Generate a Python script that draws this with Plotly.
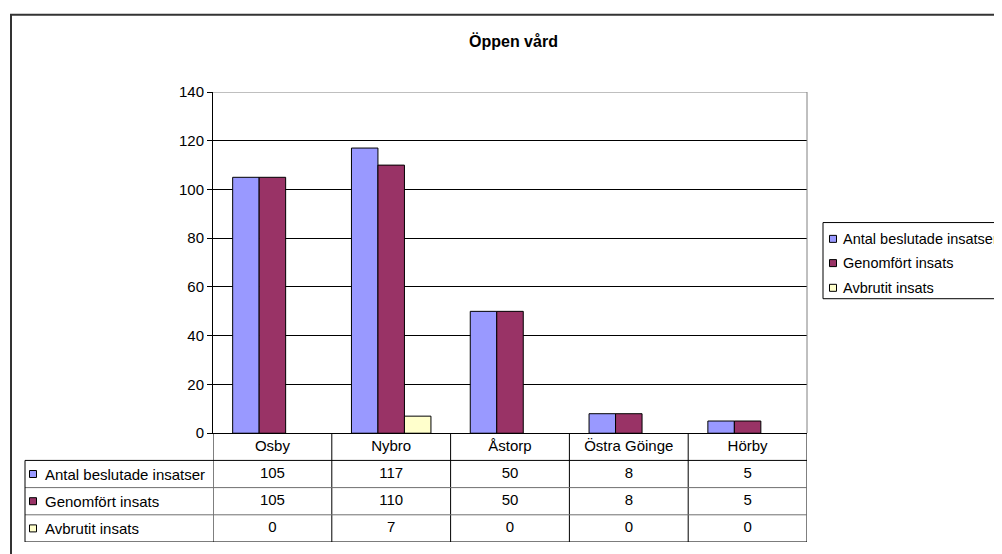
import plotly.graph_objects as go

# ---- data ----
categories = ["Osby", "Nybro", "Åstorp", "Östra Göinge", "Hörby"]
series_names = ["Antal beslutade insatser", "Genomfört insats", "Avbrutit insats"]
antal_beslutade = [105, 117, 50, 8, 5]
genomfort = [105, 110, 50, 8, 5]
avbrutit = [0, 7, 0, 0, 0]
y_ticks = [0, 20, 40, 60, 80, 100, 120, 140]
title_text = "Öppen vård"

series_values = [antal_beslutade, genomfort, avbrutit]
colors = ["#9999FF", "#993366", "#FFFFCC"]

FONT = "Liberation Sans, Arial, sans-serif"
FS = 15

OFF = 8                 # page body margin: figure starts at (8, 8) in the window
W, H = 1002, 554

# target positions in window pixels (converted to figure pixels)
L, R, T, B = 213 - OFF, 807 - OFF, 92 - OFF, 547 - OFF
AXIS_Y = 437 - OFF


def px_x(p):
    """window px -> paper x"""
    return (p - OFF - L) / (R - L)


def px_y(p):
    """window px -> paper y"""
    return (B - (p - OFF)) / (B - T)


split = (B - AXIS_Y) / (B - T)

fig = go.Figure()

for name, vals, col in zip(series_names, series_values, colors):
    fig.add_trace(go.Bar(
        x=categories, y=vals, name=name,
        marker=dict(color=col,
                    line=dict(color="black", width=[1 if v > 0 else 0 for v in vals])),
        xaxis="x", yaxis="y", showlegend=False,
    ))

# data table: header row + value rows
fig.add_trace(go.Scatter(
    x=categories, y=[0.5] * len(categories), text=categories, mode="text",
    textfont=dict(family=FONT, size=FS, color="black"),
    xaxis="x2", yaxis="y2", showlegend=False, hoverinfo="skip",
))
for i, vals in enumerate(series_values):
    fig.add_trace(go.Scatter(
        x=categories, y=[i + 1.5] * len(categories), text=[str(v) for v in vals],
        mode="text", textfont=dict(family=FONT, size=FS, color="black"),
        xaxis="x2", yaxis="y2", showlegend=False, hoverinfo="skip",
    ))

shapes = []
annotations = []

# table grid
n = len(categories)
for k in range(n + 1):
    shapes.append(dict(type="line", xref="x2", yref="y2", x0=k - 0.5, x1=k - 0.5,
                       y0=0, y1=4, line=dict(color="black", width=1)))
for r in range(1, 5):
    col = "black" if r in (1, 4) else "#707070"
    shapes.append(dict(type="line", xref="paper", yref="y2", x0=px_x(25), x1=1,
                       y0=r, y1=r, line=dict(color=col, width=1)))
shapes.append(dict(type="line", xref="paper", yref="y2", x0=px_x(25), x1=px_x(25),
                   y0=1, y1=4, line=dict(color="black", width=1)))

# row labels with keys
for i, (name, col) in enumerate(zip(series_names, colors)):
    shapes.append(dict(type="rect", xref="paper", yref="y2",
                       xsizemode="pixel", ysizemode="pixel",
                       xanchor=px_x(33), yanchor=i + 1.5,
                       x0=-3.5, x1=3.5, y0=-3.5, y1=3.5,
                       fillcolor=col, line=dict(color="black", width=1)))
    annotations.append(dict(xref="paper", yref="y2", x=px_x(43), y=i + 1.5,
                            text=name, showarrow=False, xanchor="left", yanchor="middle",
                            font=dict(family=FONT, size=FS, color="black")))

# plot-area gray border (top and right)
shapes.append(dict(type="line", xref="paper", yref="y", x0=0, x1=1, y0=140, y1=140,
                   line=dict(color="#808080", width=1), layer="above"))
shapes.append(dict(type="line", xref="paper", yref="y", x0=1, x1=1, y0=0, y1=140,
                   line=dict(color="#808080", width=1), layer="above"))

# legend (manual, Excel style)
shapes.append(dict(type="rect", xref="paper", yref="paper",
                   x0=px_x(823), x1=px_x(1030), y0=px_y(301), y1=px_y(224),
                   line=dict(color="black", width=1), fillcolor="white"))
for name, col, cy in zip(series_names, colors, [240.5, 265, 290]):
    shapes.append(dict(type="rect", xref="paper", yref="paper",
                       xsizemode="pixel", ysizemode="pixel",
                       xanchor=px_x(833), yanchor=px_y(cy),
                       x0=-3.5, x1=3.5, y0=-3.5, y1=3.5,
                       fillcolor=col, line=dict(color="black", width=1)))
    annotations.append(dict(xref="paper", yref="paper", x=px_x(841), y=px_y(cy),
                            text=name, showarrow=False, xanchor="left", yanchor="middle",
                            font=dict(family=FONT, size=14.5, color="black")))

# outer chart border
shapes.append(dict(type="rect", xref="paper", yref="paper",
                   x0=px_x(11), x1=px_x(1030), y0=px_y(580), y1=px_y(14),
                   line=dict(color="#333333", width=2), fillcolor="rgba(0,0,0,0)"))

# title
annotations.append(dict(xref="paper", yref="paper", x=px_x(513.5), y=px_y(40.5),
                        text="<b>" + title_text + "</b>", showarrow=False,
                        xanchor="center", yanchor="middle",
                        font=dict(family=FONT, size=16, color="black")))

fig.update_layout(
    width=W, height=H,
    margin=dict(l=L, r=W - R, t=T, b=H - B, pad=0),
    paper_bgcolor="white", plot_bgcolor="white",
    font=dict(family=FONT, size=FS, color="black"),
    barmode="group", bargap=0.331, bargroupgap=0,
    showlegend=False,
    xaxis=dict(domain=[0, 1], anchor="y", type="category", categoryarray=categories,
               range=[-0.5, n - 0.5], showticklabels=False, ticks="",
               showline=True, linecolor="black", linewidth=1, showgrid=False,
               zeroline=False, fixedrange=True),
    yaxis=dict(domain=[split, 1], anchor="x", range=[0, 140], tickvals=y_ticks,
               ticks="outside", ticklen=5, tickcolor="black", tickwidth=1,
               showline=True, linecolor="black", linewidth=1,
               showgrid=True, gridcolor="black", gridwidth=1, zeroline=False,
               tickfont=dict(family=FONT, size=FS, color="black"), fixedrange=True),
    xaxis2=dict(domain=[0, 1], anchor="y2", type="category", categoryarray=categories,
                range=[-0.5, n - 0.5], visible=False, fixedrange=True),
    yaxis2=dict(domain=[0, split], anchor="x2", range=[4, 0], visible=False,
                fixedrange=True),
    shapes=shapes,
    annotations=annotations,
)

fig.write_html("out.html")
